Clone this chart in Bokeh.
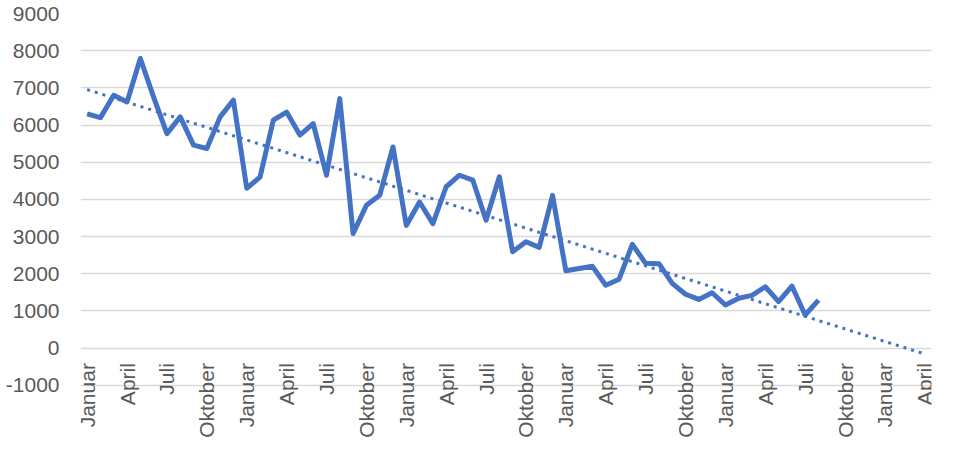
import numpy as np
from bokeh.plotting import figure
from bokeh.models import FixedTicker, ColumnDataSource
from bokeh.core.properties import value
from bokeh.embed import file_html
from bokeh.resources import INLINE

# monthly values, January of year 1 to August of year 5
values = [6300, 6200, 6800, 6620, 7790, 6750, 5770, 6220, 5460, 5370, 6220, 6670,
          4300, 4600, 6130, 6350, 5730, 6040, 4650, 6710, 3080, 3840, 4110, 5410,
          3300, 3930, 3350, 4340, 4650, 4520, 3440, 4610, 2590, 2860, 2710, 4110,
          2080, 2140, 2200, 1690, 1850, 2790, 2280, 2270, 1740, 1450, 1310, 1490,
          1160, 1340, 1420, 1650, 1250, 1670, 890, 1290]

month_names = ["Januar", "Februar", "März", "April", "Mai", "Juni", "Juli",
               "August", "September", "Oktober", "November", "Dezember"]
n_categories = 64  # January year 1 .. April year 6
label_step = 3
forecast_end = n_categories - 1

y_ticks = list(range(-1000, 9001, 1000))

FONT = "Liberation Sans"
GREY = "#595959"
BLUE = "#4472C4"

x = np.arange(len(values))
slope, intercept = np.polyfit(x, values, 1)
trend_x = np.array([0, forecast_end])
trend_y = intercept + slope * trend_x

# the frame extends below -1000 so the category labels are not clipped
p = figure(width=935, height=455, output_backend="svg", toolbar_location=None,
           x_range=(-0.5, n_categories - 0.5), y_range=(-2700, 9000),
           min_border_left=80, min_border_top=13, min_border_right=4, min_border_bottom=7)
p.outline_line_color = None
p.background_fill_color = "white"
p.border_fill_color = "white"

p.xaxis.visible = False
p.xgrid.visible = False

p.yaxis.ticker = FixedTicker(ticks=y_ticks)
p.yaxis.major_label_overrides = {-1000: "-1000"}
p.yaxis.axis_line_color = None
p.yaxis.major_tick_line_color = None
p.yaxis.minor_tick_line_color = None
p.yaxis.major_tick_in = 0
p.yaxis.major_tick_out = 0
p.yaxis.major_label_standoff = 21
p.yaxis.major_label_text_font = FONT
p.yaxis.major_label_text_font_size = "21px"
p.yaxis.major_label_text_color = GREY
p.ygrid.ticker = FixedTicker(ticks=y_ticks)
p.ygrid.grid_line_color = "#d9d9d9"
p.ygrid.grid_line_width = 1.5

# trend line
p.line(trend_x, trend_y, line_color=BLUE, line_width=3, line_dash="3 5")
# data line
p.line(x, values, line_color=BLUE, line_width=5, line_join="round")

# category labels next to the axis at 0
label_pos = list(range(0, n_categories, label_step))
label_txt = [month_names[i % 12] for i in label_pos]
src = ColumnDataSource(dict(x=label_pos, y=[0] * len(label_pos), t=label_txt))
p.text(x="x", y="y", text="t", source=src, angle=np.pi / 2, text_align="right",
       text_baseline="middle", y_offset=15, text_font=value(FONT),
       text_font_size="21px", text_color=GREY)

open("out.html", "w").write(file_html(p, INLINE))
